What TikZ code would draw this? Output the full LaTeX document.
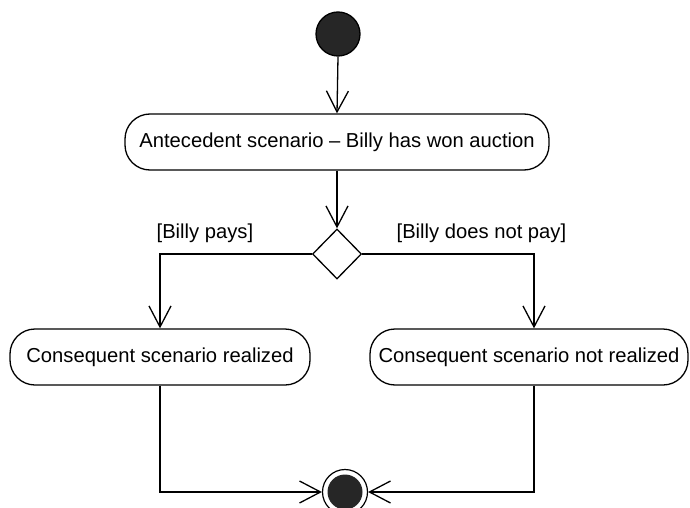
\documentclass[tikz,border=0pt]{standalone}
\usepackage{fontspec}
\setmainfont{Liberation Sans}
\usetikzlibrary{arrows.meta,shapes.geometric}
\begin{document}
\begin{tikzpicture}[x=1pt,y=-1pt,
  line width=1.3pt,
  flow/.style={-{Straight Barb[length=21pt,width=22pt,line width=1.3pt]}},
  activity/.style={draw,rounded corners=25pt,minimum height=56pt,inner sep=0pt,
    font=\fontsize{20.2pt}{24pt}\selectfont},
  guard/.style={font=\fontsize{20.2pt}{24pt}\selectfont,inner sep=0pt},
  decision/.style={draw,diamond,minimum width=49pt,minimum height=50pt,inner sep=0pt},
]
\useasboundingbox (0,0) rectangle (690,508);

% start / end markers
\node[circle,fill=black!85,draw=black,minimum size=44pt,inner sep=0pt] (start) at (338,34) {};
\node[circle,draw=black,line width=1.2pt,minimum size=45pt,inner sep=0pt] (final) at (345,492) {};
\fill[black!85] (final.center) circle (17.5pt);

% activities
\node[activity,minimum width=424pt] (ante) at (337,142) {Antecedent scenario -- Billy has won auction};
\node[decision] (dec) at (337,254) {};
\node[activity,minimum width=300pt] (yes) at (160,357) {Consequent scenario realized};
\node[activity,minimum width=318pt] (no) at (529,357) {Consequent scenario not realized};

% guards
\node[guard,anchor=west] (gyes) at (156,233) {[Billy pays]};
\node[guard,anchor=west] (gno) at (396,233) {[Billy does not pay]};

% control flow
\draw[flow] (start.south) -- (ante.north);
\draw[flow] (ante.south) -- (dec.north);
\draw[flow] (dec.west) -| (yes.north);
\draw[flow] (dec.east) -| ([xshift=5pt]no.north);
\draw[flow] (yes.south) |- (final.west);
\draw[flow] ([xshift=5pt]no.south) |- (final.east);
\end{tikzpicture}
\end{document}
